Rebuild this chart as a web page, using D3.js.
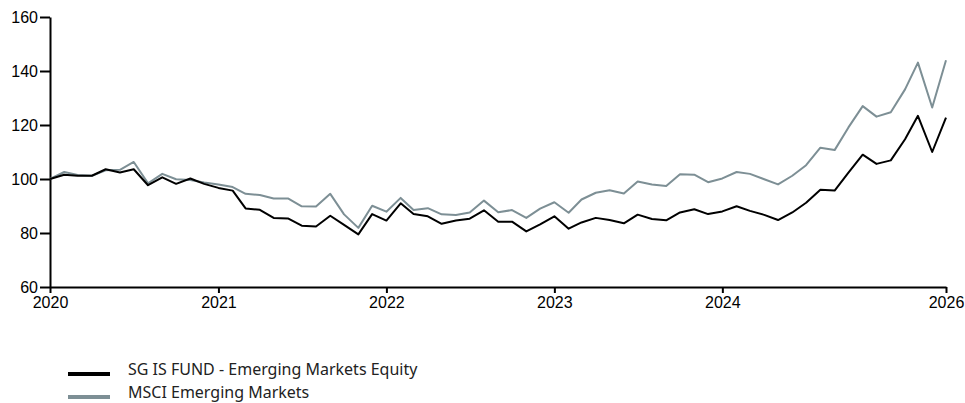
<!DOCTYPE html>
<html>
<head>
<meta charset="utf-8">
<script src="https://cdn.jsdelivr.net/npm/d3@7"></script>
<style>
  body { margin: 0; background: #fff; }
  .axis text { font-family: "Liberation Sans", Arial, sans-serif; font-size: 16px; fill: #000; }
  .axis path, .axis line { stroke: #000; stroke-width: 2px; }
  .legend text { font-family: "Noto Sans", sans-serif; font-size: 16px; fill: #222; }
</style>
</head>
<body>
<div id="vis"></div>
<script>
const margin = { top: 17, right: 19, bottom: 116, left: 50 };
const width = 965 - margin.left - margin.right;
const height = 403 - margin.top - margin.bottom;

// monthly values, Jan 2020 .. May 2025 (rebased to 100)
const startMonth = new Date(2020, 0, 1);
const fund = [
  100, 101.6, 101.2, 101.2, 103.6, 102.4, 103.6, 97.7, 100.6, 98.2, 100.2, 98.2,
  96.7, 95.7, 89.1, 88.6, 85.6, 85.4, 82.7, 82.4, 86.4, 83.0, 79.5, 87.0,
  84.6, 91.0, 87.0, 86.2, 83.4, 84.6, 85.3, 88.4, 84.2, 84.2, 80.6, 83.2,
  86.2, 81.6, 83.9, 85.6, 84.8, 83.6, 86.8, 85.2, 84.7, 87.6, 88.8, 87.0,
  88.0, 89.9, 88.2, 86.7, 84.8, 87.6, 91.2, 96.0, 95.7, 102.4, 109.0, 105.6,
  106.9, 114.7, 123.4, 110.0, 122.7
];
const benchmark = [
  100, 102.6, 101.5, 101.2, 103.2, 103.4, 106.3, 98.4, 101.9, 99.9, 99.6, 98.7,
  98.0, 97.0, 94.5, 94.1, 92.8, 92.8, 89.9, 89.8, 94.5, 86.9, 81.9, 90.1,
  87.9, 93.0, 88.5, 89.2, 86.9, 86.7, 87.6, 92.0, 87.7, 88.5, 85.6, 89.0,
  91.4, 87.5, 92.4, 94.9, 95.8, 94.6, 99.1, 98.0, 97.4, 101.8, 101.6, 98.8,
  100.2, 102.6, 101.9, 99.9, 98.0, 101.2, 105.1, 111.6, 110.7, 119.1, 127.0, 123.1,
  124.7, 133.2, 143.1, 126.5, 144.0
];

const seriesNames = ["SG IS FUND - Emerging Markets Equity", "MSCI Emerging Markets"];
const seriesColors = ["#000000", "#7d8f95"];

const yTicks = [60, 80, 100, 120, 140, 160];
const xTickDates = [new Date(2020, 0, 1), new Date(2021, 0, 1), new Date(2022, 0, 1),
                    new Date(2023, 0, 1), new Date(2024, 0, 1), new Date(2025, 4, 1)];
const xTickLabels = ["2020", "2021", "2022", "2023", "2024", "2026"];

const svg = d3.select('#vis')
  .append('svg')
  .attr('width', width + margin.left + margin.right)
  .attr('height', height + margin.top + margin.bottom)
  .append('g')
  .attr('transform', `translate(${margin.left},${margin.top})`);

const monthOf = i => new Date(startMonth.getFullYear(), startMonth.getMonth() + i, 1);

const xScale = d3.scaleTime()
  .domain([startMonth, monthOf(fund.length - 1)])
  .range([0, width]);

const yScale = d3.scaleLinear()
  .domain([60, 160])
  .range([height, 0]);

const xAxis = d3.axisBottom(xScale)
  .tickValues(xTickDates)
  .tickFormat((d, i) => xTickLabels[i])
  .tickSize(6)
  .tickSizeOuter(0)
  .tickPadding(4);

svg.append('g')
  .attr('class', 'axis')
  .attr('transform', `translate(0,${height})`)
  .call(xAxis);

const yAxis = d3.axisLeft(yScale)
  .tickValues(yTicks)
  .tickSize(10)
  .tickSizeOuter(0)
  .tickPadding(2);

svg.append('g')
  .attr('class', 'axis')
  .call(yAxis);

const line = d3.line()
  .x((d, i) => xScale(monthOf(i)))
  .y(d => yScale(d));

// benchmark under the fund
[benchmark, fund].forEach((vals, k) => {
  svg.append('path')
    .datum(vals)
    .attr('fill', 'none')
    .attr('stroke', k === 0 ? seriesColors[1] : seriesColors[0])
    .attr('stroke-width', 2)
    .attr('stroke-linejoin', 'round')
    .attr('d', line);
});

const legend = svg.append('g')
  .attr('class', 'legend')
  .attr('transform', `translate(18,${height + 87})`);

seriesNames.forEach((name, i) => {
  const g = legend.append('g').attr('transform', `translate(0,${i * 23})`);
  g.append('line')
    .attr('x1', 0).attr('x2', 42)
    .attr('y1', 0).attr('y2', 0)
    .attr('stroke', seriesColors[i])
    .attr('stroke-width', 4);
  g.append('text')
    .attr('x', 60)
    .attr('y', -5)
    .attr('dy', '0.35em')
    .text(name);
});
</script>
</body>
</html>
